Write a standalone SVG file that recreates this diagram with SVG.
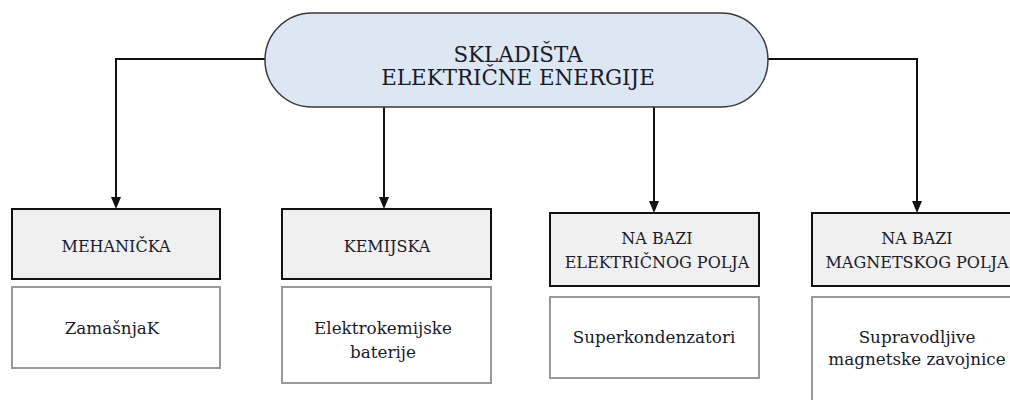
<svg xmlns="http://www.w3.org/2000/svg" width="1010" height="400" viewBox="0 0 1010 400">
<style>
  .t{font-family:"DejaVu Serif","Liberation Serif",serif;fill:#1a1a2a;text-anchor:middle}
  .h{font-size:16px}
  .b{font-size:16.8px}
  .r{font-size:21.4px}
  .pill{fill:#dce7f3;stroke:#3a3a3a;stroke-width:1.5}
  .hd{fill:#f0f0f0;stroke:#111;stroke-width:2}
  .bd{fill:#fff;stroke:#999;stroke-width:2}
  .c{fill:none;stroke:#111;stroke-width:2}
  .a{fill:#111}
</style>
<rect width="1010" height="400" fill="#fff"/>
<g id="connectors">
  <path class="c" d="M265,59 H116 V197"/>
  <path class="a" d="M111,197 L121,197 L116,209 Z"/>
  <path class="c" d="M384,107 V197"/>
  <path class="a" d="M379,197 L389,197 L384,209 Z"/>
  <path class="c" d="M654,107 V201"/>
  <path class="a" d="M649,201 L659,201 L654,213 Z"/>
  <path class="c" d="M768,59 H917 V201"/>
  <path class="a" d="M912,201 L922,201 L917,213 Z"/>
</g>
<g id="root">
  <rect class="pill" x="265" y="13" width="503" height="94" rx="47" ry="47"/>
  <text class="t r" x="518" y="62">SKLADIŠTA</text>
  <text class="t r" x="518" y="85">ELEKTRIČNE ENERGIJE</text>
</g>
<g id="mehanicka">
  <rect class="hd" x="12" y="209" width="208" height="70"/>
  <text class="t h" x="116" y="252">MEHANIČKA</text>
</g>
<g id="zamasnjak">
  <rect class="bd" x="12" y="287" width="208" height="81"/>
  <text class="t b" x="112" y="334">ZamašnjaK</text>
</g>
<g id="kemijska">
  <rect class="hd" x="282" y="209" width="209" height="70"/>
  <text class="t h" x="387" y="252">KEMIJSKA</text>
</g>
<g id="baterije">
  <rect class="bd" x="282" y="287" width="209" height="96"/>
  <text class="t b" x="383" y="334">Elektrokemijske</text>
  <text class="t b" x="383" y="358">baterije</text>
</g>
<g id="elektricno">
  <rect class="hd" x="550" y="213" width="209" height="73"/>
  <text class="t h" x="657" y="244">NA BAZI</text>
  <text class="t h" x="657" y="268">ELEKTRIČNOG POLJA</text>
</g>
<g id="superkondenzatori">
  <rect class="bd" x="550" y="297" width="209" height="81"/>
  <text class="t b" x="654" y="343">Superkondenzatori</text>
</g>
<g id="magnetsko">
  <rect class="hd" x="812" y="213" width="209" height="73"/>
  <text class="t h" x="917" y="244">NA BAZI</text>
  <text class="t h" x="917" y="268">MAGNETSKOG POLJA</text>
</g>
<g id="zavojnice">
  <rect class="bd" x="812" y="297" width="209" height="112"/>
  <text class="t b" x="917" y="343">Supravodljive</text>
  <text class="t b" x="917" y="365">magnetske zavojnice</text>
</g>
</svg>
